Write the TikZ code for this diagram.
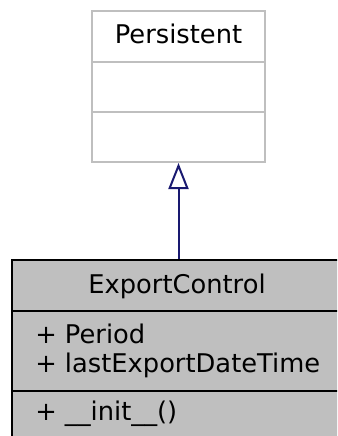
\documentclass[tikz,border=0pt]{standalone}
\usepackage{fontspec}
\setmainfont{DejaVu Sans}
\usepackage{xcolor}
\usetikzlibrary{arrows.meta,positioning}
\definecolor{boxgray}{HTML}{BFBFBF}
\definecolor{edgeblue}{HTML}{191970}

\begin{document}
\begin{tikzpicture}[
  x=0.75pt, y=-0.75pt,
  font=\fontsize{19.3}{22.5}\selectfont,
  baseclass/.style={draw=boxgray, fill=white, line width=1.5pt, minimum width=129.75pt, minimum height=113.25pt, inner sep=0pt},
  thisclass/.style={draw=black, fill=boxgray, line width=2pt, minimum width=249.75pt, minimum height=138.75pt, inner sep=0pt},
  member/.style={anchor=base west, inner sep=0pt},
  title/.style={anchor=base, inner sep=0pt},
  inherit/.style={draw=edgeblue, line width=1.5pt, -{Triangle[open, length=19.5pt, width=15pt]}}
]
\useasboundingbox (0,0) rectangle (337,436);
\clip (0,0) rectangle (337,436);

% Base class.
\node[baseclass] (persistent) at (178.5,86.5) {};
\draw[boxgray, line width=1.5pt] (92,62) -- (265,62);
\draw[boxgray, line width=1.5pt] (92,112) -- (265,112);
\node[title] (persistentname) at (178.5,43) {Persistent};

% Derived class.
\node[thisclass] (export) at (178.5,352.5) {};
\draw[line width=2pt] (12,311) -- (345,311);
\draw[line width=2pt] (12,391) -- (345,391);
\node[title] (exportname) at (177,293) {ExportControl};
\node[member] (period) at (35,343) {+ Period};
\node[member] (lastexport) at (35,372) {+ lastExportDateTime};
\node[member] (init) at (35,420) {+ \_\_init\_\_()};

% Inheritance.
\draw[inherit] (export.north) -- (persistent.south);
\end{tikzpicture}
\end{document}
